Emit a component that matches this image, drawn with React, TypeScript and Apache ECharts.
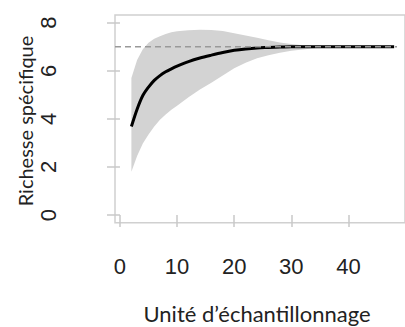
import React, { useEffect, useRef } from "react";
import * as echarts from "echarts";

const xValues = [2, 3, 4, 5, 6, 7, 8, 9, 10, 12, 14, 16, 18, 20, 22, 24, 26, 28, 30, 32, 34, 36, 38, 40, 44, 48];
const meanValues = [3.68, 4.4, 4.97, 5.32, 5.6, 5.8, 5.96, 6.08, 6.19, 6.38, 6.53, 6.65, 6.76, 6.85, 6.91, 6.95, 6.97, 6.99, 7.0, 7.0, 7.0, 7.0, 7.0, 7.0, 7.0, 7.0];
const upperValues = [5.7, 6.45, 6.9, 7.17, 7.33, 7.44, 7.53, 7.6, 7.64, 7.69, 7.71, 7.7, 7.65, 7.56, 7.47, 7.37, 7.27, 7.18, 7.11, 7.06, 7.03, 7.01, 7.0, 7.0, 7.0, 7.0];
const lowerValues = [1.8, 2.45, 2.97, 3.35, 3.68, 3.96, 4.18, 4.38, 4.55, 4.9, 5.22, 5.5, 5.8, 6.1, 6.33, 6.52, 6.65, 6.75, 6.83, 6.89, 6.94, 6.97, 6.99, 7.0, 7.0, 7.0];
const asymptote = 7;
const refLineX = [-0.87, 48.5];
const xTicks = [0, 10, 20, 30, 40];
const yTicks = [0, 2, 4, 6, 8];
const xTitle = "Unité d’échantillonnage";
const yTitle = "Richesse spécifique";

export default function App() {
  const ref = useRef<HTMLDivElement>(null);
  useEffect(() => {
    if (!ref.current) return;
    const chart = echarts.init(ref.current, null, { renderer: "svg" });
    const meanData = xValues.map((x, i) => [x, meanValues[i]]);
    const refData = refLineX.map((x) => [x, asymptote]);
    const tickColor = "#c8c8c8";
    const labelFont = { fontFamily: "Liberation Sans", fontSize: 22, color: "#222" };
    chart.setOption({
      animation: false,
      grid: {
        left: 115,
        top: 15,
        width: 292,
        height: 207.7,
        show: true,
        borderColor: "#d0d0d0",
        borderWidth: 1.5,
        backgroundColor: "transparent",
      },
      xAxis: {
        type: "value",
        min: -0.87,
        max: 49.9,
        offset: 2,
        axisLine: { show: false },
        splitLine: { show: false },
        axisTick: { show: true, length: 12, customValues: xTicks, lineStyle: { color: tickColor, width: 1.5 } },
        axisLabel: { customValues: xTicks, margin: 31, ...labelFont },
      },
      yAxis: {
        type: "value",
        min: -0.32,
        max: 8.32,
        offset: 2,
        axisLine: { show: false },
        splitLine: { show: false },
        axisTick: { show: true, length: 13, customValues: yTicks, lineStyle: { color: tickColor, width: 1.5 } },
        axisLabel: { customValues: yTicks, margin: 54, rotate: 90, ...labelFont },
      },
      series: [
        {
          type: "custom",
          data: [[0]],
          z: 1,
          silent: true,
          renderItem: (params: any, api: any) => {
            const top = xValues.map((x, i) => api.coord([x, upperValues[i]]));
            const bottom = xValues.map((x, i) => api.coord([x, lowerValues[i]])).reverse();
            return {
              type: "polygon",
              shape: { points: top.concat(bottom) },
              style: { fill: "#d3d3d3", stroke: "none" },
            };
          },
        },
        {
          type: "line",
          data: meanData,
          symbol: "none",
          smooth: 0.3,
          lineStyle: { color: "#000", width: 3 },
          z: 3,
        },
        {
          type: "line",
          data: refData,
          symbol: "none",
          lineStyle: { color: "#999", width: 1.5, type: [6, 4] },
          z: 4,
        },
      ],
      graphic: [
        {
          type: "text",
          x: 257,
          y: 313,
          style: {
            text: xTitle,
            fontFamily: "Lato",
            fontSize: 22,
            fill: "#222",
            align: "center",
            verticalAlign: "middle",
          },
        },
        {
          type: "text",
          x: 25,
          y: 121,
          rotation: Math.PI / 2,
          style: {
            text: yTitle,
            fontFamily: "Lato",
            fontSize: 20,
            fill: "#222",
            align: "center",
            verticalAlign: "middle",
          },
        },
      ],
    });
    return () => chart.dispose();
  }, []);
  return (
    <div
      ref={ref}
      style={{ position: "fixed", left: 0, top: 0, width: 405, height: 327, background: "#fff" }}
    />
  );
}
